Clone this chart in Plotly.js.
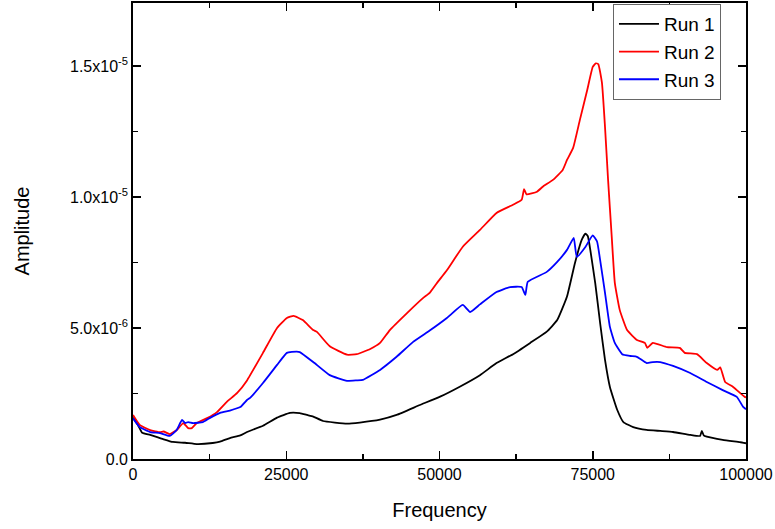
<!DOCTYPE html>
<html>
<head>
<meta charset="utf-8">
<script src="https://cdn.plot.ly/plotly-3.0.1.min.js"></script>
<style>html,body{margin:0;padding:0;background:#fff;}#chart{width:775px;height:529px;}</style>
</head>
<body>
<div id="chart"></div>
<script>
// Run 1 (black)
const run1Freq = [0, 800, 1500, 2800, 4900, 6500, 8500, 10400, 13000, 14200, 15800, 17500, 18600, 21200, 23500, 25600, 27200, 28400, 29400, 31000, 34900, 37000, 40300, 43000, 46800, 50100, 53300, 56600, 59300, 62000, 64800, 67500, 69200, 70800, 72100, 73200, 73800, 74200, 74600, 75400, 76200, 77000, 77800, 79000, 80000, 81600, 83800, 86000, 88100, 90900, 92500, 92800, 93100, 93600, 96200, 99000, 100000];
const run1Amp = [1.58e-6, 1.3e-6, 1.0e-6, 0.92e-6, 0.76e-6, 0.65e-6, 0.62e-6, 0.57e-6, 0.61e-6, 0.66e-6, 0.8e-6, 0.9e-6, 1.03e-6, 1.27e-6, 1.58e-6, 1.76e-6, 1.75e-6, 1.68e-6, 1.62e-6, 1.45e-6, 1.35e-6, 1.39e-6, 1.5e-6, 1.68e-6, 2.06e-6, 2.38e-6, 2.76e-6, 3.2e-6, 3.66e-6, 4.0e-6, 4.43e-6, 4.86e-6, 5.3e-6, 6.2e-6, 7.48e-6, 8.36e-6, 8.6e-6, 8.5e-6, 7.98e-6, 6.72e-6, 5.19e-6, 3.78e-6, 2.75e-6, 1.87e-6, 1.41e-6, 1.22e-6, 1.11e-6, 1.07e-6, 1.03e-6, 0.92e-6, 0.88e-6, 1.07e-6, 0.9e-6, 0.85e-6, 0.73e-6, 0.64e-6, 0.6e-6];

// Run 2 (red)
const run2Freq = [0, 1100, 2800, 4400, 5000, 6000, 7100, 8200, 9000, 9600, 10400, 12100, 13700, 15300, 17000, 18600, 21200, 23500, 25100, 26200, 27700, 29400, 30000, 32100, 34900, 36500, 38700, 40300, 41900, 44700, 47300, 48400, 49600, 51200, 53800, 56600, 59300, 62000, 63400, 63800, 64200, 65900, 66900, 68500, 70100, 70800, 71800, 72900, 74100, 75000, 75500, 75900, 76500, 77000, 77500, 78100, 78600, 79400, 80600, 82200, 83500, 83900, 84800, 87100, 89200, 90000, 92000, 93600, 95300, 95800, 96600, 97900, 99800, 100000];
const run2Amp = [1.68e-6, 1.3e-6, 1.1e-6, 1.02e-6, 1.05e-6, 0.95e-6, 1.1e-6, 1.37e-6, 1.18e-6, 1.18e-6, 1.37e-6, 1.56e-6, 1.79e-6, 2.18e-6, 2.52e-6, 3.0e-6, 4.05e-6, 5.0e-6, 5.38e-6, 5.46e-6, 5.3e-6, 4.92e-6, 4.85e-6, 4.3e-6, 3.98e-6, 4.0e-6, 4.2e-6, 4.43e-6, 4.92e-6, 5.57e-6, 6.14e-6, 6.34e-6, 6.72e-6, 7.2e-6, 8.1e-6, 8.74e-6, 9.39e-6, 9.7e-6, 9.89e-6, 10.3e-6, 10.1e-6, 10.2e-6, 10.4e-6, 10.65e-6, 11.03e-6, 11.41e-6, 11.87e-6, 12.94e-6, 14.08e-6, 14.96e-6, 15.1e-6, 15.07e-6, 14.35e-6, 12.67e-6, 10.65e-6, 8.47e-6, 6.72e-6, 5.69e-6, 4.92e-6, 4.54e-6, 4.43e-6, 4.24e-6, 4.43e-6, 4.27e-6, 4.24e-6, 4.05e-6, 4.0e-6, 3.66e-6, 3.4e-6, 3.5e-6, 2.94e-6, 2.75e-6, 2.37e-6, 2.35e-6];

// Run 3 (blue)
const run3Freq = [0, 1100, 2800, 4400, 6000, 7100, 8000, 8500, 9000, 9800, 11400, 12500, 14200, 15800, 17500, 18600, 19100, 21200, 23500, 25100, 26700, 27200, 29400, 32100, 34900, 36500, 37500, 40300, 43000, 45700, 48400, 51200, 53800, 55000, 56600, 59300, 61500, 63400, 64000, 64400, 67500, 69200, 70800, 71900, 72400, 73800, 75000, 75700, 76200, 77000, 77800, 78600, 79800, 81100, 82200, 83800, 84800, 86000, 88100, 90900, 93600, 96200, 98500, 99500, 100000];
const run3Amp = [1.55e-6, 1.22e-6, 1.03e-6, 0.99e-6, 0.88e-6, 1.1e-6, 1.49e-6, 1.37e-6, 1.41e-6, 1.37e-6, 1.41e-6, 1.56e-6, 1.76e-6, 1.85e-6, 1.98e-6, 2.25e-6, 2.33e-6, 2.9e-6, 3.59e-6, 4.05e-6, 4.1e-6, 4.08e-6, 3.7e-6, 3.2e-6, 2.98e-6, 3.0e-6, 3.02e-6, 3.4e-6, 3.9e-6, 4.47e-6, 4.9e-6, 5.38e-6, 5.88e-6, 5.61e-6, 5.9e-6, 6.37e-6, 6.56e-6, 6.56e-6, 6.26e-6, 6.76e-6, 7.14e-6, 7.52e-6, 7.98e-6, 8.44e-6, 7.71e-6, 8.09e-6, 8.53e-6, 8.3e-6, 7.6e-6, 6.34e-6, 5.04e-6, 4.43e-6, 4.0e-6, 3.93e-6, 3.9e-6, 3.66e-6, 3.7e-6, 3.7e-6, 3.55e-6, 3.28e-6, 2.94e-6, 2.63e-6, 2.37e-6, 2.0e-6, 1.9e-6];

const seriesNames = ["Run 1", "Run 2", "Run 3"];
const seriesColors = ["#000000", "#ff0000", "#0000ff"];

const xTickVals = [0, 25000, 50000, 75000, 100000];
const xTickText = ["0", "25000", "50000", "75000", "100000"];
const xMinorVals = [12500, 37500, 62500, 87500];
const yTickVals = [0, 5e-6, 1e-5, 1.5e-5];
const yTickText = ["0.0", "5.0x10<sup>-6</sup>", "1.0x10<sup>-5</sup>", "1.5x10<sup>-5</sup>"];
const yMinorVals = [2.5e-6, 7.5e-6, 1.25e-5];

const xs = [run1Freq, run2Freq, run3Freq];
const ys = [run1Amp, run2Amp, run3Amp];
const traces = seriesNames.map((n, i) => ({
  x: xs[i], y: ys[i], name: n, type: 'scatter', mode: 'lines',
  line: {color: seriesColors[i], width: 1.8, shape: 'spline', smoothing: 0.4}
}));

const font = "Arial, 'Liberation Sans', sans-serif";
const layout = {
  width: 775, height: 529,
  margin: {l: 133, r: 29, t: 3, b: 70},
  paper_bgcolor: '#fff', plot_bgcolor: '#fff',
  font: {family: font, color: '#000', size: 16},
  showlegend: true,
  legend: {
    x: 0.783, y: 0.8925, xanchor: 'left', yanchor: 'middle',
    bgcolor: '#fff', bordercolor: '#666', borderwidth: 1,
    font: {family: font, size: 19, color: '#000'},
    tracegroupgap: 0, itemwidth: 40
  },
  xaxis: {
    range: [0, 100000], showgrid: false, zeroline: false,
    showline: true, linecolor: '#000', linewidth: 1.8, mirror: 'ticks',
    ticks: 'inside', ticklen: 8, tickwidth: 1.5, tickcolor: '#000',
    tickmode: 'array', tickvals: xTickVals, ticktext: xTickText,
    tickfont: {size: 16, family: font},
    minor: {tickmode: 'array', tickvals: xMinorVals, ticks: 'inside', ticklen: 5, tickwidth: 1.5, tickcolor: '#000'},
    title: {text: 'Frequency', font: {size: 20, family: font}, standoff: 21}
  },
  yaxis: {
    range: [0, 1.74e-5], showgrid: false, zeroline: false,
    showline: true, linecolor: '#000', linewidth: 1.8, mirror: 'ticks',
    ticks: 'inside', ticklen: 8, tickwidth: 1.5, tickcolor: '#000',
    tickmode: 'array', tickvals: yTickVals, ticktext: yTickText,
    tickfont: {size: 16, family: font},
    minor: {tickmode: 'array', tickvals: yMinorVals, ticks: 'inside', ticklen: 5, tickwidth: 1.5, tickcolor: '#000'},
    title: {text: 'Amplitude', font: {size: 20, family: font}, standoff: 35}
  }
};
Plotly.newPlot('chart', traces, layout, {displayModeBar: false, staticPlot: true});
</script>
</body>
</html>
